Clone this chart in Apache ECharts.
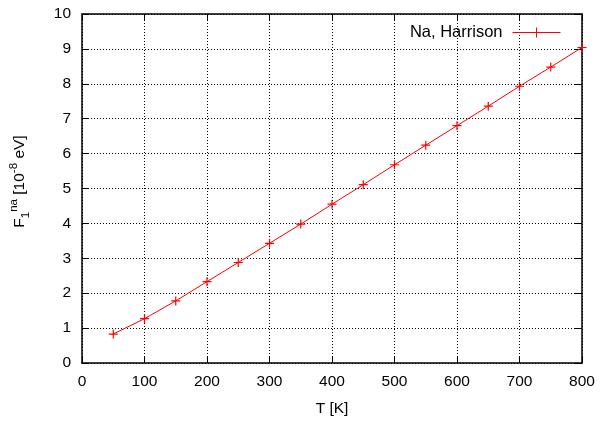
<!DOCTYPE html>
<html>
<head>
<meta charset="utf-8">
<script src="https://cdn.jsdelivr.net/npm/echarts@6/dist/echarts.min.js"></script>
<style>html,body{margin:0;padding:0;background:#fff}#c{width:605px;height:422px}</style>
</head>
<body>
<div id="c"></div>
<script>
var temperatures = [50,100,150,200,250,300,350,400,450,500,550,600,650,700,750,800];
var f1na = [0.83,1.27,1.78,2.33,2.88,3.43,3.98,4.55,5.11,5.68,6.24,6.80,7.36,7.93,8.48,9.04];
var seriesName = 'Na, Harrison';
var xTitle = 'T [K]';

var font = 'Liberation Sans, Arial, Helvetica, sans-serif';
var plus = 'path://M5,0L5,10M0,5L10,5';
var legendIcon = 'path://M0,5L48,5M24,0L24,10M19.5,5L28.5,5';
var chart = echarts.init(document.getElementById('c'), null, {renderer:'canvas'});
var gridDash = {color:'#000', width:1, type:[1,2]};
var tickIn = {show:true, inside:true, length:7, lineStyle:{color:'#000', width:1}};
chart.setOption({
  animation:false,
  backgroundColor:'#fff',
  grid:{left:81, right:23, top:14, bottom:55, containLabel:false},
  legend:{
    right:39, top:19, itemWidth:48, itemHeight:10, align:'right', itemGap:0,
    itemStyle:{color:'#ff0000', borderColor:'#ff0000', borderWidth:1},
    textStyle:{fontFamily:font, fontSize:16.5, color:'#000', padding:[0,5,0,0]},
    data:[{name:seriesName, icon:legendIcon}]
  },
  xAxis:[{
    type:'value', min:0, max:800, interval:100, position:'bottom',
    name:xTitle, nameLocation:'middle', nameGap:38,
    nameTextStyle:{fontFamily:font, fontSize:15.5, color:'#000'},
    axisLine:{show:true, onZero:false, lineStyle:{color:'#000', width:1.5}},
    axisTick:tickIn,
    axisLabel:{fontFamily:font, fontSize:15.5, color:'#000', margin:11},
    splitLine:{show:true, lineStyle:gridDash}
  },{
    type:'value', min:0, max:800, interval:100, position:'top',
    axisLine:{show:true, onZero:false, lineStyle:{color:'#000', width:1.5}},
    axisTick:tickIn, axisLabel:{show:false}, splitLine:{show:false}
  }],
  yAxis:[{
    type:'value', min:0, max:10, interval:1, position:'left',
    name:'F{sub|1}{sup|na} [10{sup|-8} eV]', nameLocation:'middle', nameGap:50, nameRotate:90,
    nameTextStyle:{fontFamily:font, fontSize:15.5, color:'#000', lineHeight:24, padding:[0,0,0,14],
      rich:{
        sub:{fontFamily:font, fontSize:11.5, color:'#000', verticalAlign:'bottom', lineHeight:24},
        sup:{fontFamily:font, fontSize:11.5, color:'#000', verticalAlign:'top', lineHeight:24}
      }},
    axisLine:{show:true, onZero:false, lineStyle:{color:'#000', width:1.5}},
    axisTick:tickIn,
    axisLabel:{fontFamily:font, fontSize:15.5, color:'#000', margin:11},
    splitLine:{show:true, lineStyle:gridDash}
  },{
    type:'value', min:0, max:10, interval:1, position:'right',
    axisLine:{show:true, onZero:false, lineStyle:{color:'#000', width:1.5}},
    axisTick:tickIn, axisLabel:{show:false}, splitLine:{show:false}
  }],
  series:[{
    name:seriesName, type:'line',
    data:temperatures.map(function(t,i){return [t, f1na[i]];}),
    symbol:plus, symbolSize:9, showSymbol:true,
    lineStyle:{color:'#ff0000', width:1},
    itemStyle:{color:'#ff0000', borderColor:'#ff0000', borderWidth:1.2},
    clip:false
  }]
});
</script>
</body>
</html>
